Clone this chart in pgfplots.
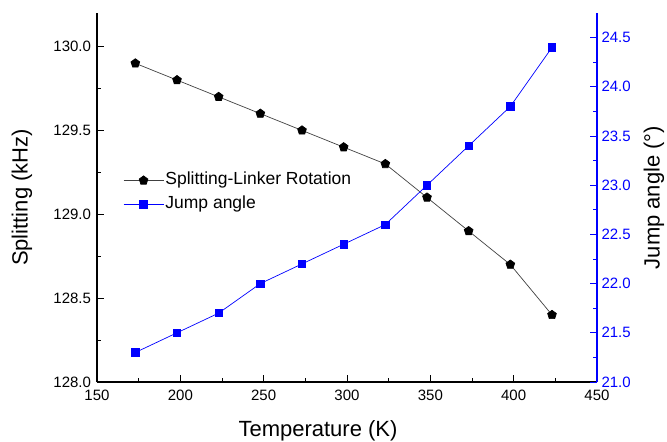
\documentclass[border=0pt]{standalone}
\usepackage{pgfplots}
\pgfplotsset{compat=1.18}
\usepackage{fontspec}
\setmainfont{Liberation Sans}
\definecolor{pblue}{RGB}{0,0,255}
\begin{document}
\begin{tikzpicture}
\useasboundingbox (-97bp,-60bp) rectangle (570bp,382bp);
\begin{axis}[
  at={(0,0)}, anchor=south west,
  scale only axis, width=500bp, height=369bp,
  xmin=150, xmax=450, ymin=128, ymax=130.2,
  axis x line*=bottom, axis y line*=left,
  axis line style={black, line width=1.1bp},
  xtick={150,200,250,300,350,400,450},
  ytick={128,128.5,129,129.5,130},
  minor x tick num=1, minor y tick num=1,
  tick align=inside,
  major tick length=7bp, minor tick length=4bp,
  tick style={black, line width=0.9bp},
  /pgf/number format/assume math mode=true,
  tick label style={font=\fontsize{15bp}{18bp}\selectfont},
  xticklabel style={yshift=-4.5bp},
  yticklabel style={xshift=-2.5bp, /pgf/number format/.cd, fixed, fixed zerofill, precision=1},
  xlabel={Temperature (K)},
  ylabel={Splitting (kHz)},
  label style={font=\fontsize{22bp}{26bp}\selectfont},
  xlabel style={at={(axis description cs:0.442,0)}, anchor=base, yshift=-54.5bp},
  ylabel style={at={(axis description cs:-0.15,0.5)}, anchor=center},
  legend style={draw=none, fill=none, at={(axis description cs:0.052,0.5136)}, anchor=west,
    font=\fontsize{17.5bp}{21bp}\selectfont, inner sep=0pt, row sep=4bp,
    nodes={inner sep=1.5bp, text height=13bp, text depth=4bp}},
  legend cell align=left,
  legend image code/.code={\draw[mark repeat=2,mark phase=2] plot coordinates {(0bp,0bp)(20bp,0bp)(40bp,0bp)};},
]
\addplot[black!75, line width=0.7bp, mark=pentagon*, mark size=4.6bp, mark options={black, solid}]
coordinates {(173,129.9)(198,129.8)(223,129.7)(248,129.6)(273,129.5)(298,129.4)(323,129.3)(348,129.1)(373,128.9)(398,128.7)(423,128.4)};
\addlegendentry{Splitting-Linker Rotation}
\addlegendimage{pblue, line width=0.7bp, mark=square*, mark size=3.7bp, mark options={pblue, solid}}
\addlegendentry{Jump angle}
\end{axis}
\begin{axis}[
  at={(0,0)}, anchor=south west,
  scale only axis, width=500bp, height=369bp,
  xmin=150, xmax=450, ymin=21, ymax=24.75,
  axis x line=none, axis y line*=right,
  y axis line style={pblue, line width=1.3bp},
  ytick={21,21.5,22,22.5,23,23.5,24,24.5},
  minor y tick num=1,
  tick align=inside,
  major tick length=7bp, minor tick length=4bp,
  ytick style={pblue, line width=0.9bp},
  /pgf/number format/assume math mode=true,
  yticklabel style={pblue, font=\fontsize{15bp}{18bp}\selectfont, xshift=1bp, /pgf/number format/.cd, fixed, fixed zerofill, precision=1},
  ylabel={Jump angle (°)},
  ylabel style={font=\fontsize{22bp}{26bp}\selectfont, at={(axis description cs:1.114,0.5)}, anchor=center},
]
\addplot[pblue, line width=0.7bp, mark=square*, mark size=3.7bp, mark options={pblue, solid}]
coordinates {(173,21.3)(198,21.5)(223,21.7)(248,22.0)(273,22.2)(298,22.4)(323,22.6)(348,23.0)(373,23.4)(398,23.8)(423,24.4)};
\end{axis}
\end{tikzpicture}
\end{document}
